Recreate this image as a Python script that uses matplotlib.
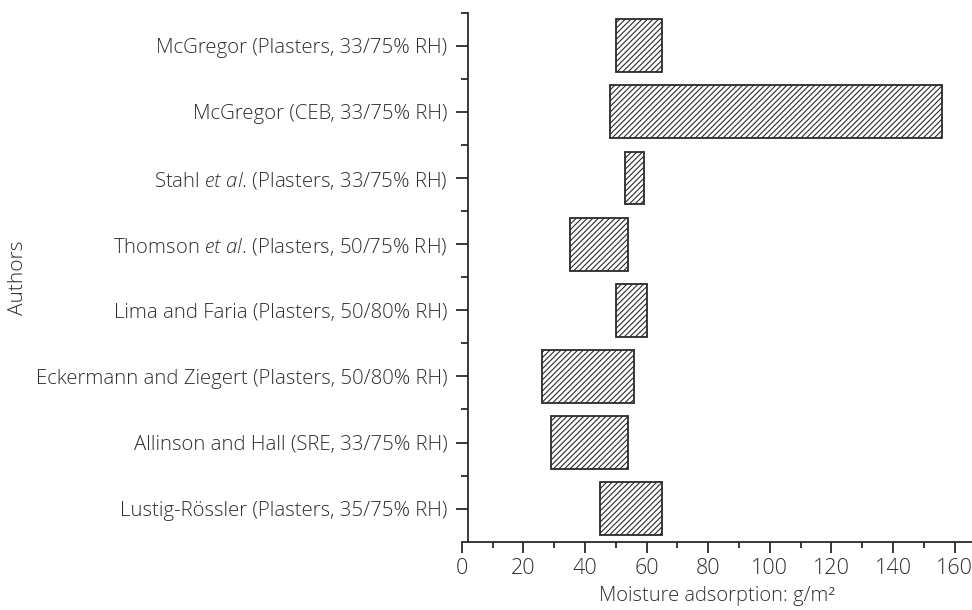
import matplotlib
matplotlib.use("Agg")
import matplotlib.pyplot as plt
from matplotlib.ticker import MultipleLocator, FixedLocator

plt.rcParams['font.family'] = ['Open Sans', 'DejaVu Sans']
plt.rcParams['font.weight'] = 'light'
plt.rcParams['axes.labelweight'] = 'light'
plt.rcParams['mathtext.fontset'] = 'custom'
plt.rcParams['mathtext.rm'] = 'Open Sans:light'
plt.rcParams['mathtext.it'] = 'Open Sans:italic:light'
plt.rcParams['hatch.linewidth'] = 0.8
plt.rcParams['hatch.color'] = '#333333'

# Data (bottom to top)
authors = [
    "Lustig-Rössler (Plasters, 35/75% RH)",
    "Allinson and Hall (SRE, 33/75% RH)",
    "Eckermann and Ziegert (Plasters, 50/80% RH)",
    "Lima and Faria (Plasters, 50/80% RH)",
    r"Thomson $\mathit{et\ al}$. (Plasters, 50/75% RH)",
    r"Stahl $\mathit{et\ al}$. (Plasters, 33/75% RH)",
    "McGregor (CEB, 33/75% RH)",
    "McGregor (Plasters, 33/75% RH)",
]
low = [45, 29, 26, 50, 35, 53, 48, 50]
high = [65, 54, 56, 60, 54, 59, 156, 65]
xticks = [0, 20, 40, 60, 80, 100, 120, 140, 160]

text_color = '#2e2e2e'

fig = plt.figure(figsize=(9.72, 6.10), dpi=100)
ax = fig.add_axes([461.7/972, 68.3/610, 1 - 461.7/972, (541.7-12.7)/610])

ypos = list(range(len(authors)))
widths = [h - l for l, h in zip(low, high)]
ax.barh(ypos, widths, left=low, height=0.8, color='white', edgecolor='#2a2a2a',
        linewidth=1.3, hatch='//////')

ax.set_xlim(0, 165.6)
ax.set_ylim(-0.5, 7.5)

ax.spines['top'].set_visible(False)
ax.spines['right'].set_visible(False)
ax.spines['left'].set_position(('data', 2.1))
for s in ('left', 'bottom'):
    ax.spines[s].set_linewidth(1.3)
    ax.spines[s].set_color('#2a2a2a')

ax.set_yticks(ypos)
ax.set_yticklabels(authors)
ax.yaxis.set_minor_locator(FixedLocator([y + 0.5 for y in ypos]))
ax.set_xticks(xticks)
ax.set_xticklabels([str(v) for v in xticks])
ax.xaxis.set_minor_locator(MultipleLocator(10))

ax.tick_params(axis='y', which='major', direction='out', length=9, width=1.3,
               pad=5.8, labelsize=14.7, colors='#2a2a2a', labelcolor=text_color)
ax.tick_params(axis='y', which='minor', direction='out', length=5, width=1.3,
               colors='#2a2a2a')
ax.tick_params(axis='x', which='major', direction='out', length=8, width=1.3,
               pad=4, labelsize=15.5, colors='#2a2a2a', labelcolor=text_color)
ax.tick_params(axis='x', which='minor', direction='out', length=4.5, width=1.3,
               colors='#2a2a2a')

ax.set_xlabel("Moisture adsorption: g/m²", fontsize=14.5, fontweight='light',
              color=text_color, labelpad=5)
fig.text(18/972, 1 - 278/610, "Authors", rotation=90, ha='center', va='center',
         fontsize=15, fontweight='light', color=text_color)

fig.savefig("out.png", dpi=100)
